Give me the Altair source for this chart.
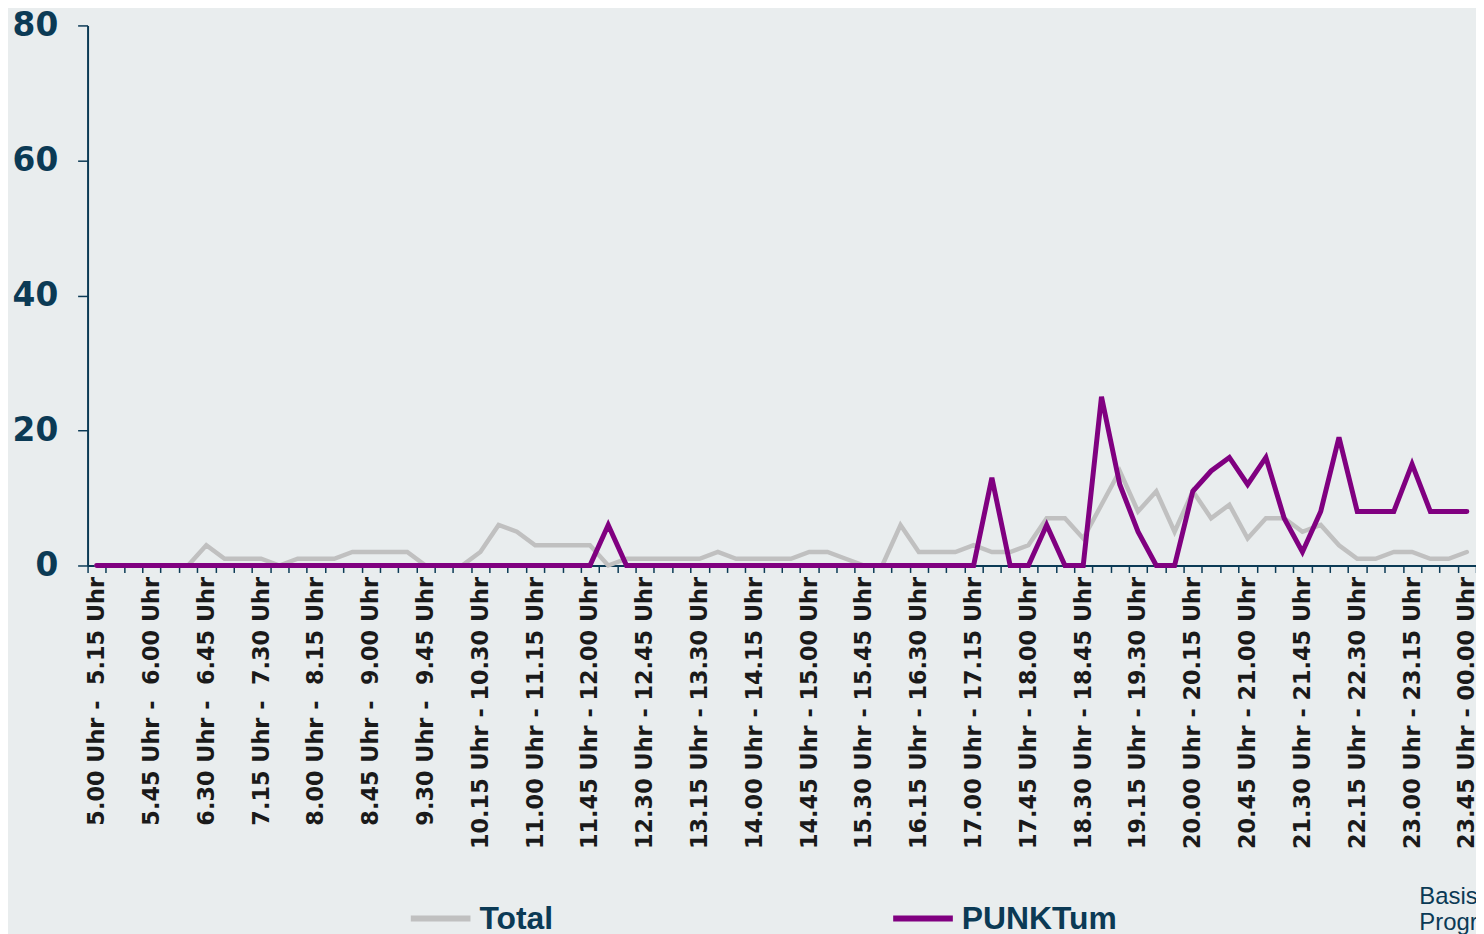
import json
import altair as alt
import pandas as pd

# 15-minute time slots from 5.00 Uhr to 00.00 Uhr
slots = []
for i in range(76):
    s = 5 * 60 + 15 * i
    e = s + 15
    sh, sm = divmod(s, 60)
    eh, em = divmod(e, 60)
    end_h = "00" if eh == 24 else str(eh)
    sep = " - \u00a0" if len(end_h) == 1 else " - "
    slots.append(f"{sh}.{sm:02d} Uhr{sep}{end_h}.{em:02d} Uhr")

shown_labels = slots[::3]

total = [0, 0, 0, 0, 0, 0, 3, 1, 1, 1,
         0, 1, 1, 1, 2, 2, 2, 2, 0, 0,
         0, 2, 6, 5, 3, 3, 3, 3, 0, 1,
         1, 1, 1, 1, 2, 1, 1, 1, 1, 2,
         2, 1, 0, 0, 6, 2, 2, 2, 3, 2,
         2, 3, 7, 7, 4, 9, 14, 8, 11, 5,
         11, 7, 9, 4, 7, 7, 5, 6, 3, 1,
         1, 2, 2, 1, 1, 2]

punktum = [0, 0, 0, 0, 0, 0, 0, 0, 0, 0,
           0, 0, 0, 0, 0, 0, 0, 0, 0, 0,
           0, 0, 0, 0, 0, 0, 0, 0, 6, 0,
           0, 0, 0, 0, 0, 0, 0, 0, 0, 0,
           0, 0, 0, 0, 0, 0, 0, 0, 0, 13,
           0, 0, 6, 0, 0, 25, 12, 5, 0, 0,
           11, 14, 16, 12, 16, 7, 2, 8, 19, 8,
           8, 8, 15, 8, 8, 8]

series_names = ["Total", "PUNKTum"]
series_colors = ["#C0C0C0", "#800080"]

df = pd.DataFrame({
    "slot": slots * 2,
    "series": ["Total"] * len(slots) + ["PUNKTum"] * len(slots),
    "value": total + punktum,
})

NAVY = "#0B3A55"

x_enc = alt.X(
    "slot:N",
    sort=slots,
    bandPosition=0.5,
    scale=alt.Scale(type="band", domain=slots, paddingInner=0, paddingOuter=0),
    axis=alt.Axis(
        title=None,
        labelExpr="indexof(" + json.dumps(shown_labels) + ", datum.value) >= 0 ? datum.label : ''",
        labelAngle=-90,
        labelOverlap=False,
        labelLimit=0,
        labelFont="DejaVu Sans",
        labelFontWeight="bold",
        labelFontSize=22.5,
        labelColor="#1a1a1a",
        labelPadding=4,
        tickBand="extent",
        tickSize=7,
        tickWidth=1.5,
        tickColor=NAVY,
        domainColor=NAVY,
        domainWidth=2,
        grid=False,
        zindex=0,
    ),
)

y_enc = alt.Y(
    "value:Q",
    scale=alt.Scale(domain=[0, 80], nice=False),
    axis=alt.Axis(
        title=None,
        values=[0, 20, 40, 60, 80],
        labelFont="DejaVu Sans",
        labelFontWeight="bold",
        labelFontSize=33,
        labelColor=NAVY,
        labelPadding=20,
        tickSize=10,
        tickWidth=1.5,
        tickColor=NAVY,
        domainColor=NAVY,
        domainWidth=2,
        grid=False,
        zindex=0,
    ),
)

color_enc = alt.Color(
    "series:N",
    scale=alt.Scale(domain=series_names, range=series_colors),
    legend=alt.Legend(
        title=None,
        orient="none",
        legendX=322,
        legendY=865,
        direction="horizontal",
        symbolType="stroke",
        symbolSize=3600,
        symbolStrokeWidth=6,
        labelFont="Liberation Sans Narrow, Liberation Sans, Arial, sans-serif",
        labelFontSize=32,
        labelFontWeight="bold",
        labelColor=NAVY,
        labelOffset=6,
        columnPadding=329,
    ),
)

base = alt.Chart(df).encode(x=x_enc, y=y_enc, color=color_enc)

total_line = base.transform_filter(alt.datum.series == "Total").mark_line(
    strokeWidth=4.5, strokeCap="round"
)
punkt_line = base.transform_filter(alt.datum.series == "PUNKTum").mark_line(
    strokeWidth=5, strokeCap="round"
)

note = alt.Chart(pd.DataFrame({"t": ["Basis:\nProgramm"]})).mark_text(
    align="left",
    baseline="alphabetic",
    lineBreak="\n",
    lineHeight=27,
    font="Liberation Sans",
    fontSize=24,
    color=NAVY,
).encode(text="t:N", x=alt.value(1339), y=alt.value(883))

chart = alt.layer(total_line, punkt_line, note).properties(
    width=1396,
    height=543,
    autosize=alt.AutoSizeParams(type="none"),
    padding={"left": 80, "top": 15, "right": 0, "bottom": 368},
).configure(
    background="#E9EDEE",
).configure_view(stroke=None)

chart.save("out.html", embed_options={"renderer": "svg", "actions": False})
